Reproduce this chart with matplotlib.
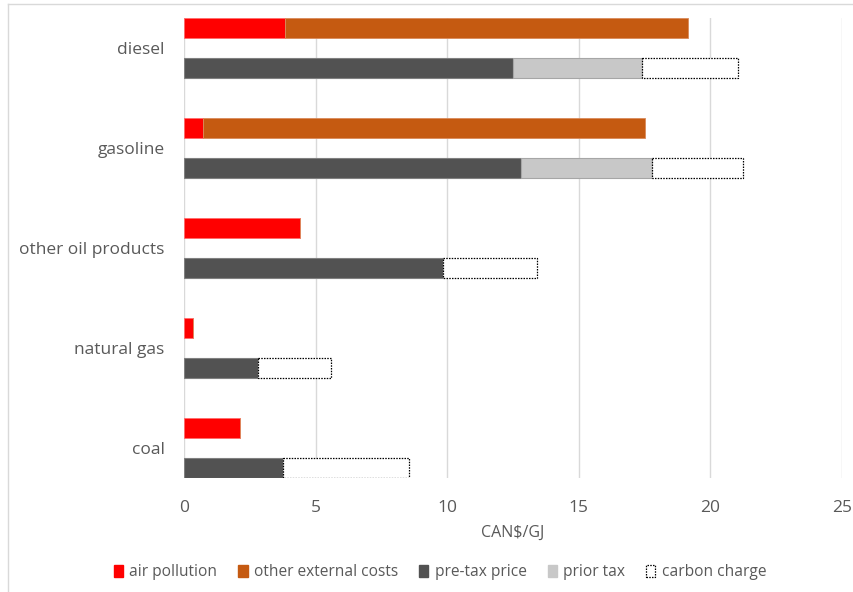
import matplotlib
matplotlib.use("Agg")
import matplotlib.pyplot as plt
from matplotlib.patches import Patch
from matplotlib.lines import Line2D
import numpy as np

categories = ['diesel', 'gasoline', 'other oil products', 'natural gas', 'coal']
air_pollution = [3.82, 0.71, 4.41, 0.34, 2.14]
other_external = [15.32, 16.80, 0.0, 0.0, 0.0]
pre_tax = [12.49, 12.81, 9.83, 2.80, 3.78]
prior_tax = [4.91, 4.98, 0.0, 0.0, 0.0]
carbon_charge = [3.63, 3.46, 3.58, 2.80, 4.76]
xticks = [0, 5, 10, 15, 20, 25]

W, H = 854, 592
fig = plt.figure(figsize=(W / 100, H / 100), dpi=100)
plt.rcParams['font.family'] = ['Open Sans', 'DejaVu Sans']

TXT = '#595959'
RED = '#FF0000'
ORANGE = '#C55A11'
DARK = '#525252'
LIGHT = '#C8C8C8'

left, right, top, bottom = 184, 842, 18, 478
ax = fig.add_axes([left / W, 1 - bottom / H, (right - left) / W, (bottom - top) / H])

y = np.arange(len(categories))
h = 0.205
off = 0.2

air = np.array(air_pollution)
oth = np.array(other_external)
pt = np.array(pre_tax)
pr = np.array(prior_tax)
cc = np.array(carbon_charge)

ax.barh(y - off, air, height=h, color=RED, edgecolor='#FF6B6B', linewidth=0.6, zorder=3)
ax.barh(y - off, oth, left=air, height=h, color=ORANGE, edgecolor='#D98A5A', linewidth=0.6, zorder=3)
ax.barh(y + off, pt, height=h, color=DARK, edgecolor='#808080', linewidth=0.8, zorder=3)
ax.barh(y + off, pr, left=pt, height=h, color=LIGHT, edgecolor='#A6A6A6', linewidth=0.8, zorder=3)
ax.barh(y + off, cc, left=pt + pr, height=h, color='white', edgecolor='black',
        linewidth=0.9, linestyle=(0, (1.2, 1.0)), zorder=4)

ax.set_xlim(0, 25)
ax.set_ylim(len(categories) - 1 + 0.3, -0.3)
ax.set_xticks(xticks)
ax.set_xticklabels([str(t) for t in xticks])
ax.set_yticks(y)
ax.set_yticklabels(categories)
ax.tick_params(axis='x', length=0, pad=16, labelsize=12.5, labelcolor=TXT)
ax.tick_params(axis='y', length=0, pad=14, labelsize=12.5, labelcolor=TXT)
ax.grid(axis='x', color='#D9D9D9', linewidth=1.0, zorder=0)
ax.set_axisbelow(True)
for s in ax.spines.values():
    s.set_visible(False)
ax.set_xlabel('CAN$/GJ', fontsize=11.5, color=TXT, labelpad=6)

# chart frame
fig.add_artist(Line2D([8 / W, 8 / W], [0, 1 - 4 / H], transform=fig.transFigure,
                      color='#D9D9D9', linewidth=1.0))
fig.add_artist(Line2D([8 / W, 1], [1 - 4 / H, 1 - 4 / H], transform=fig.transFigure,
                      color='#D9D9D9', linewidth=1.0))

handles = [
    Patch(facecolor=RED, edgecolor=RED, label='air pollution'),
    Patch(facecolor=ORANGE, edgecolor=ORANGE, label='other external costs'),
    Patch(facecolor=DARK, edgecolor=DARK, label='pre-tax price'),
    Patch(facecolor=LIGHT, edgecolor=LIGHT, label='prior tax'),
    Patch(facecolor='white', edgecolor='black', linestyle=(0, (1.2, 1.0)), linewidth=0.9, label='carbon charge'),
]
leg = fig.legend(handles=handles, loc='center', bbox_to_anchor=(440 / W, 1 - 572 / H), ncol=5,
                 frameon=False, fontsize=11.2, handlelength=0.6, handleheight=0.8,
                 handletextpad=0.4, columnspacing=1.35, labelcolor=TXT)

fig.savefig('out.png', dpi=100)
